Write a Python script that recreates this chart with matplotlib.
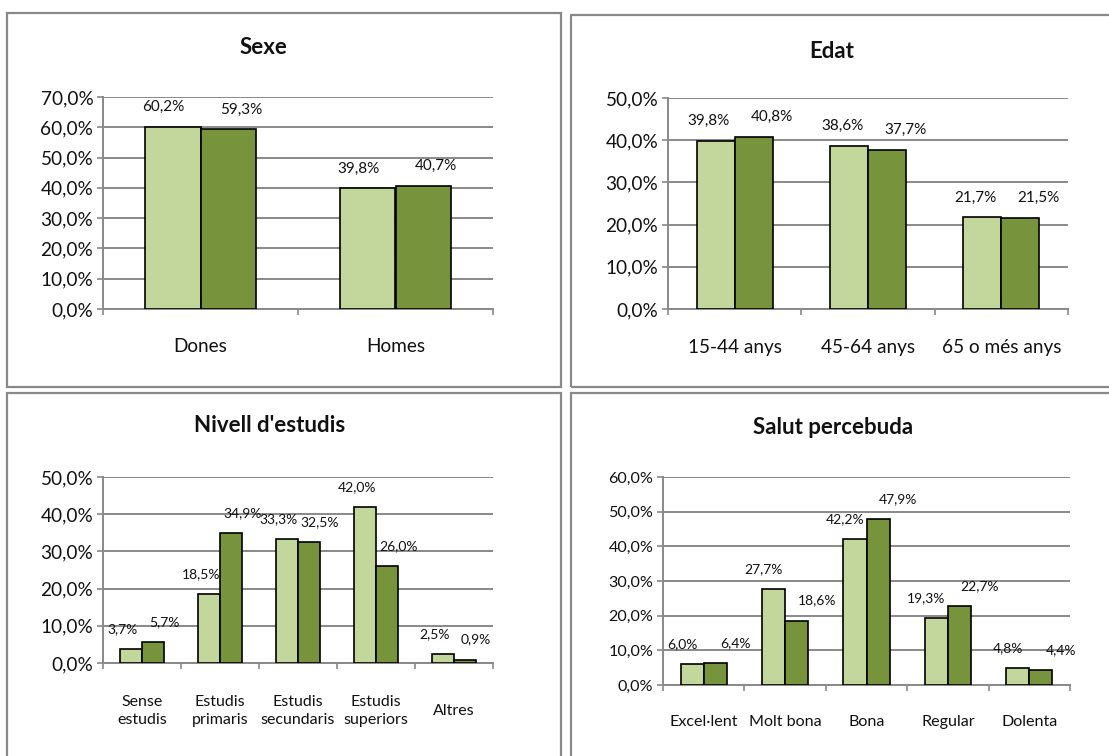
import matplotlib
matplotlib.use("Agg")
import matplotlib.pyplot as plt
from matplotlib.patches import Rectangle
import numpy as np

plt.rcParams['font.family'] = ['Lato', 'DejaVu Sans']

# ---- data ----
sexe_cats = ["Dones", "Homes"]
sexe_a = [60.2, 39.8]
sexe_b = [59.3, 40.7]

edat_cats = ["15-44 anys", "45-64 anys", "65 o més anys"]
edat_a = [39.8, 38.6, 21.7]
edat_b = [40.8, 37.7, 21.5]

estudis_cats = ["Sense\nestudis", "Estudis\nprimaris", "Estudis\nsecundaris", "Estudis\nsuperiors", "Altres"]
estudis_a = [3.7, 18.5, 33.3, 42.0, 2.5]
estudis_b = [5.7, 34.9, 32.5, 26.0, 0.9]

salut_cats = ["Excel·lent", "Molt bona", "Bona", "Regular", "Dolenta"]
salut_a = [6.0, 27.7, 42.2, 19.3, 4.8]
salut_b = [6.4, 18.6, 47.9, 22.7, 4.4]

titles = ["Sexe", "Edat", "Nivell d'estudis", "Salut percebuda"]
ymaxes = [70, 50, 50, 60]

LIGHT = "#C3D69B"
DARK = "#77933C"
GRID = "#898989"

W, H = 1109, 756
fig = plt.figure(figsize=(W / 100, H / 100), dpi=100)


def px_axes(x0, y0, x1, y1):
    return fig.add_axes([x0 / W, 1 - y1 / H, (x1 - x0) / W, (y1 - y0) / H])


# panel borders
for (x0, y0, x1, y1) in [(7, 13, 561, 387), (571, 15, 1118, 387),
                         (7, 393, 561, 765), (571, 393, 1118, 765)]:
    fig.patches.append(Rectangle((x0 / W, 1 - y1 / H), (x1 - x0) / W, (y1 - y0) / H,
                                 transform=fig.transFigure, fill=False,
                                 edgecolor=GRID, lw=1.6, clip_on=False))

specs = [
    dict(box=(103, 97, 493, 309), cats=sexe_cats, a=sexe_a, b=sexe_b, tick_fs=13.7,
         lab_fs=13.7, dl_fs=11, title_xy=(263, 48), lab_off=38, dx=(-9, 13)),
    dict(box=(668, 98, 1068, 309), cats=edat_cats, a=edat_a, b=edat_b, tick_fs=13.7,
         lab_fs=13.7, dl_fs=11, title_xy=(832, 52), lab_off=39, dx=(-7, 18)),
    dict(box=(103, 477, 493, 663), cats=estudis_cats, a=estudis_a, b=estudis_b, tick_fs=13.7,
         lab_fs=11.5, dl_fs=10, title_xy=(270, 425), lab_off=48, dx=(-8, 11)),
    dict(box=(663, 477, 1070, 685), cats=salut_cats, a=salut_a, b=salut_b, tick_fs=11.6,
         lab_fs=11.6, dl_fs=10, title_xy=(833, 428), lab_off=37, dx=(-10, 20)),
]

bw = 0.285
for i, s in enumerate(specs):
    ax = px_axes(*s["box"])
    n = len(s["cats"])
    x = np.arange(n)
    ax.bar(x - bw / 2, s["a"], bw, color=LIGHT, edgecolor="black", lw=1.2, zorder=3)
    ax.bar(x + bw / 2, s["b"], bw, color=DARK, edgecolor="black", lw=1.2, zorder=3)
    ax.set_xlim(-0.5, n - 0.5)
    ax.set_ylim(0, ymaxes[i])
    yt = np.arange(0, ymaxes[i] + 1, 10)
    ax.set_yticks(yt)
    ax.set_yticklabels([f"{v:.1f}%".replace(".", ",") for v in yt], fontsize=s["tick_fs"],
                       color="#111111")
    ax.yaxis.grid(True, color=GRID, lw=1.4, zorder=0)
    ax.set_axisbelow(True)
    ax.set_xticks(np.arange(n + 1) - 0.5)
    ax.set_xticklabels([])
    ax.tick_params(axis="x", direction="out", length=4, width=1.2, color=GRID)
    ax.tick_params(axis="y", direction="out", length=4, width=1.2, color=GRID, pad=3)
    for sp in ["top", "right"]:
        ax.spines[sp].set_visible(False)
    for sp in ["left", "bottom"]:
        ax.spines[sp].set_color(GRID)
        ax.spines[sp].set_linewidth(1.4)
    # category labels
    for j, c in enumerate(s["cats"]):
        ax.annotate(c, xy=(j, 0), xycoords=("data", "axes fraction"),
                    xytext=(0, -s["lab_off"] * 0.72), textcoords="offset points",
                    ha="center", va="center", fontsize=s["lab_fs"], linespacing=1.45,
                    color="#111111")
    # data labels
    dxa, dxb = s["dx"]
    for j in range(n):
        for val, dx, xc in ((s["a"][j], dxa, j - bw / 2), (s["b"][j], dxb, j + bw / 2)):
            ax.annotate(f"{val:.1f}%".replace(".", ","), xy=(xc, val),
                        xytext=(dx * 0.72, 20 * 0.72), textcoords="offset points",
                        ha="center", va="center", fontsize=s["dl_fs"], color="#111111",
                        zorder=5, annotation_clip=False)
    tx, ty = s["title_xy"]
    fig.text(tx / W, 1 - ty / H, titles[i], ha="center", va="center",
             fontsize=16, fontweight="bold", color="#111111")

fig.savefig("out.png", dpi=100)
